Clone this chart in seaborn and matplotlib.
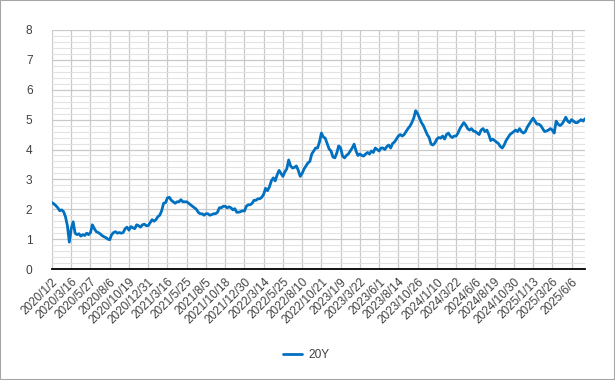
import matplotlib
matplotlib.use("Agg")
import matplotlib.pyplot as plt
from matplotlib.patches import Rectangle
from matplotlib.ticker import MultipleLocator
import numpy as np
import pandas as pd
import seaborn as sns

# category labels shown every 50 trading days
tick_labels = [
    "2020/1/2", "2020/3/16", "2020/5/27", "2020/8/6", "2020/10/19", "2020/12/31",
    "2021/3/16", "2021/5/25", "2021/8/5", "2021/10/18", "2021/12/30", "2022/3/14",
    "2022/5/25", "2022/8/10", "2022/10/21", "2023/1/9", "2023/3/22", "2023/6/1",
    "2023/8/14", "2023/10/26", "2024/1/10", "2024/3/22", "2024/6/6", "2024/8/19",
    "2024/10/30", "2025/1/13", "2025/3/26", "2025/6/6",
]

# 20Y yield (%), one reading every 5 trading days
yield_20y = [
    2.22, 2.18, 2.12, 2.05, 1.95, 1.98, 1.92, 1.75, 1.45, 0.90,
    1.35, 1.58, 1.20, 1.15, 1.18, 1.10, 1.15, 1.12, 1.20, 1.15,
    1.22, 1.48, 1.35, 1.25, 1.22, 1.18, 1.12, 1.08, 1.05, 1.00,
    0.98, 1.15, 1.22, 1.25, 1.20, 1.22, 1.20, 1.22, 1.35, 1.40,
    1.30, 1.42, 1.38, 1.35, 1.48, 1.45, 1.40, 1.48, 1.50, 1.45,
    1.45, 1.55, 1.65, 1.60, 1.65, 1.75, 1.80, 1.95, 2.20, 2.22,
    2.38, 2.40, 2.30, 2.25, 2.20, 2.25, 2.25, 2.32, 2.25, 2.25,
    2.25, 2.20, 2.15, 2.10, 2.05, 2.00, 1.90, 1.85, 1.85, 1.80,
    1.85, 1.85, 1.80, 1.82, 1.85, 1.85, 1.90, 2.05, 2.05, 2.10,
    2.10, 2.05, 2.08, 2.05, 1.98, 2.02, 1.90, 1.90, 1.92, 1.95,
    1.94, 2.10, 2.15, 2.15, 2.20, 2.30, 2.30, 2.35, 2.35, 2.40,
    2.50, 2.70, 2.62, 2.75, 2.95, 3.05, 2.95, 3.15, 3.30, 3.20,
    3.10, 3.25, 3.35, 3.65, 3.45, 3.38, 3.40, 3.45, 3.30, 3.10,
    3.20, 3.35, 3.45, 3.55, 3.60, 3.85, 3.95, 4.05, 4.05, 4.25,
    4.55, 4.42, 4.38, 4.20, 4.02, 3.95, 3.75, 3.72, 3.88, 4.12,
    4.05, 3.78, 3.72, 3.80, 3.85, 3.95, 4.05, 4.18, 3.95, 3.80,
    3.85, 3.80, 3.78, 3.85, 3.90, 3.85, 3.95, 3.90, 4.05, 4.00,
    3.95, 4.05, 4.05, 4.00, 4.10, 4.15, 4.05, 4.20, 4.25, 4.35,
    4.45, 4.50, 4.45, 4.50, 4.60, 4.70, 4.78, 4.90, 5.05, 5.30,
    5.20, 5.05, 4.90, 4.80, 4.65, 4.50, 4.40, 4.18, 4.15, 4.22,
    4.35, 4.40, 4.38, 4.45, 4.35, 4.50, 4.55, 4.45, 4.40, 4.45,
    4.45, 4.55, 4.70, 4.80, 4.90, 4.82, 4.70, 4.65, 4.70, 4.62,
    4.60, 4.55, 4.50, 4.65, 4.70, 4.60, 4.65, 4.50, 4.30, 4.35,
    4.30, 4.25, 4.20, 4.10, 4.05, 4.15, 4.30, 4.40, 4.50, 4.55,
    4.60, 4.65, 4.60, 4.70, 4.60, 4.55, 4.60, 4.75, 4.85, 4.95,
    5.05, 4.95, 4.85, 4.85, 4.80, 4.70, 4.60, 4.62, 4.65, 4.70,
    4.65, 4.55, 4.95, 4.85, 4.80, 4.85, 4.95, 5.08, 4.95, 4.90,
    5.00, 4.95, 4.90, 4.90, 4.95, 5.00, 4.95, 5.03,
]

day_idx = np.arange(len(yield_20y)) * 5
df = pd.DataFrame({"day": day_idx, "20Y": yield_20y})

sns.set_theme(style="white")
plt.rcParams["font.family"] = ["Liberation Sans", "DejaVu Sans"]

fig = plt.figure(figsize=(6.15, 3.8), dpi=100)
ax = fig.add_axes([52 / 615, 1 - 269 / 380, 533 / 615, 239 / 380])

sns.lineplot(data=df, x="day", y="20Y", ax=ax, color="#0070C0", linewidth=2.0, label="20Y")

ax.set_xlim(0, day_idx[-1])
ax.set_ylim(0, 8)
ax.yaxis.set_major_locator(MultipleLocator(1))
ax.yaxis.set_minor_locator(MultipleLocator(0.2))
ax.set_xticks(np.arange(len(tick_labels)) * 50)
ax.set_xticklabels(tick_labels, rotation=45, ha="right", rotation_mode="anchor")

ax.grid(which="major", axis="both", color="#c9c9c9", linewidth=0.9)
ax.grid(which="minor", axis="y", color="#e3e3e3", linewidth=0.8)
ax.set_axisbelow(True)
for s in ["top", "right", "left"]:
    ax.spines[s].set_visible(False)
ax.spines["bottom"].set_color("black")
ax.spines["bottom"].set_linewidth(1.3)
ax.spines["bottom"].set_zorder(3)

ax.tick_params(axis="x", length=0, pad=5, labelsize=8.5, labelcolor="#404040")
ax.tick_params(axis="y", length=0, pad=14, labelsize=8.6, labelcolor="#404040")
ax.tick_params(which="minor", length=0)
ax.set_xlabel("")
ax.set_ylabel("")

ax.get_legend().remove()
fig.legend(*ax.get_legend_handles_labels(), loc="center", bbox_to_anchor=(0.498, 1 - 355 / 380),
           frameon=False, fontsize=8.6, handlelength=1.6, handletextpad=0.5, labelcolor="#404040")

fig.patches.append(Rectangle((0, 0), 1, 1, transform=fig.transFigure, fill=False,
                             edgecolor="#a6a6a6", linewidth=1.5))

fig.savefig("out.png", dpi=100)
